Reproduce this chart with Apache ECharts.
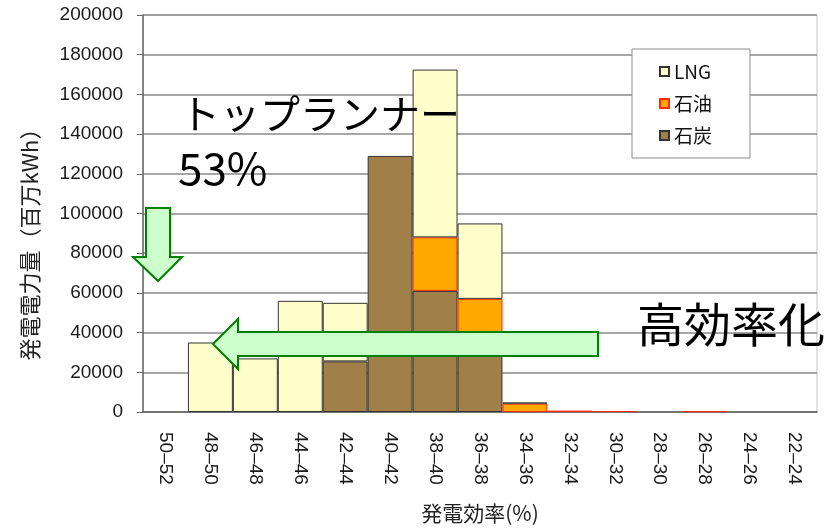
<!DOCTYPE html>
<html>
<head>
<meta charset="utf-8">
<script src="https://cdn.jsdelivr.net/npm/echarts@6/dist/echarts.min.js"></script>
<style>
  html, body { margin: 0; padding: 0; background: #fff; }
  #chart { width: 830px; height: 529px; }
</style>
</head>
<body>
<div id="chart"></div>
<script>
// Efficiency bands (%), from most to least efficient
const categories = ['50–52', '48–50', '46–48', '44–46', '42–44', '40–42', '38–40',
                    '36–38', '34–36', '32–34', '30–32', '28–30', '26–28', '24–26', '22–24'];
// Generated energy by fuel (million kWh), stacked coal → oil → LNG
const coal = [0, 0, 0, 0, 25500, 129000, 61000, 37000, 0, 0, 0, 0, 0, 0, 0];
const oil  = [0, 0, 0, 0, 0, 0, 27000, 20000, 4200, 700, 500, 0, 400, 0, 0];
const lng  = [0, 35000, 27000, 56000, 29500, 0, 84500, 38000, 600, 0, 0, 0, 0, 0, 0];
const yTicks = { min: 0, max: 200000, interval: 20000 };

const COLORS = {
  lng:  { fill: '#ffffcc', border: '#333333' },
  oil:  { fill: '#ffa800', border: '#ff2a00' },
  coal: { fill: '#a08048', border: '#333333' }
};
const ARROW_FILL = '#ccffcc';
const ARROW_STROKE = '#008000';
const JP = '"Noto Sans CJK JP", "Noto Sans", sans-serif';

const chart = echarts.init(document.getElementById('chart'), null, { renderer: 'canvas' });

function barSeries(name, data, c) {
  return {
    name: name,
    type: 'bar',
    stack: 'total',
    barCategoryGap: '0%',
    // empty bands draw nothing (no zero-height outline)
    data: data.map(v => (v === 0 ? '-' : v)),
    itemStyle: { color: c.fill, borderColor: c.border, borderWidth: 1 },
    emphasis: { disabled: true }
  };
}

chart.setOption({
  animation: false,
  backgroundColor: '#ffffff',
  grid: {
    left: 143, right: 13, top: 15, bottom: 116,
    show: true, borderColor: '#c4c4c4', borderWidth: 1, backgroundColor: 'transparent'
  },
  legend: {
    orient: 'vertical',
    left: 632, top: 49,
    data: ['LNG', '石油', '石炭'],
    icon: 'rect',
    itemWidth: 9, itemHeight: 9, itemGap: 11,
    padding: [12, 38, 12, 27],
    backgroundColor: '#ffffff',
    borderColor: '#8c8c8c', borderWidth: 1, borderRadius: 0,
    textStyle: { fontFamily: JP, fontSize: 19, color: '#111', lineHeight: 21 },
    selectedMode: false
  },
  xAxis: {
    type: 'category',
    data: categories,
    name: '発電効率(%)',
    nameLocation: 'middle',
    nameGap: 91,
    nameTextStyle: { fontFamily: JP, fontSize: 21, color: '#222' },
    axisLine: { lineStyle: { color: '#666', width: 1.5 } },
    axisTick: { inside: true, length: 6, lineStyle: { color: '#666' } },
    axisLabel: {
      rotate: -90, margin: 20, interval: 0,
      fontFamily: 'Liberation Sans, Arial, sans-serif', fontSize: 19, color: '#1a1a1a'
    },
    splitLine: { show: false }
  },
  yAxis: {
    type: 'value',
    min: yTicks.min, max: yTicks.max, interval: yTicks.interval,
    axisLine: { show: true, lineStyle: { color: '#666', width: 1.5 } },
    axisTick: { show: true, inside: false, length: 6, lineStyle: { color: '#666' } },
    axisLabel: {
      margin: 20,
      formatter: v => String(v),
      fontFamily: 'Liberation Sans, Arial, sans-serif', fontSize: 19, color: '#1a1a1a'
    },
    splitLine: { lineStyle: { color: '#8a8a8a', width: 1.5 } }
  },
  series: [
    barSeries('石炭', coal, COLORS.coal),
    barSeries('石油', oil, COLORS.oil),
    barSeries('LNG', lng, COLORS.lng)
  ],
  graphic: [
    // vertical axis title
    {
      type: 'text', x: 30, y: 239, rotation: Math.PI / 2, z: 10,
      style: {
        text: '発電電力量（百万kWh）', fontFamily: JP, fontSize: 22,
        fill: '#222', align: 'center', verticalAlign: 'middle'
      }
    },
    // downward arrow
    {
      type: 'polygon', z: 20,
      shape: { points: [[146, 208], [170, 208], [170, 257], [182, 257], [158, 281], [133, 257], [146, 257]] },
      style: { fill: ARROW_FILL, stroke: ARROW_STROKE, lineWidth: 2 }
    },
    // leftward arrow
    {
      type: 'polygon', z: 20,
      shape: { points: [[213, 344], [238, 319], [238, 332], [598, 332], [598, 356], [238, 356], [238, 369]] },
      style: { fill: ARROW_FILL, stroke: ARROW_STROKE, lineWidth: 2 }
    },
    {
      type: 'text', x: 180, y: 114, z: 30,
      style: { text: 'トップランナー', fontFamily: JP, fontSize: 40, fill: '#000', align: 'left', verticalAlign: 'middle' }
    },
    {
      type: 'text', x: 178, y: 168, z: 30,
      style: { text: '53%', fontFamily: JP, fontSize: 44, fill: '#000', align: 'left', verticalAlign: 'middle' }
    },
    {
      type: 'text', x: 637, y: 324, z: 30,
      style: { text: '高効率化', fontFamily: JP, fontSize: 47, fill: '#000', align: 'left', verticalAlign: 'middle' }
    }
  ]
});
</script>
</body>
</html>
